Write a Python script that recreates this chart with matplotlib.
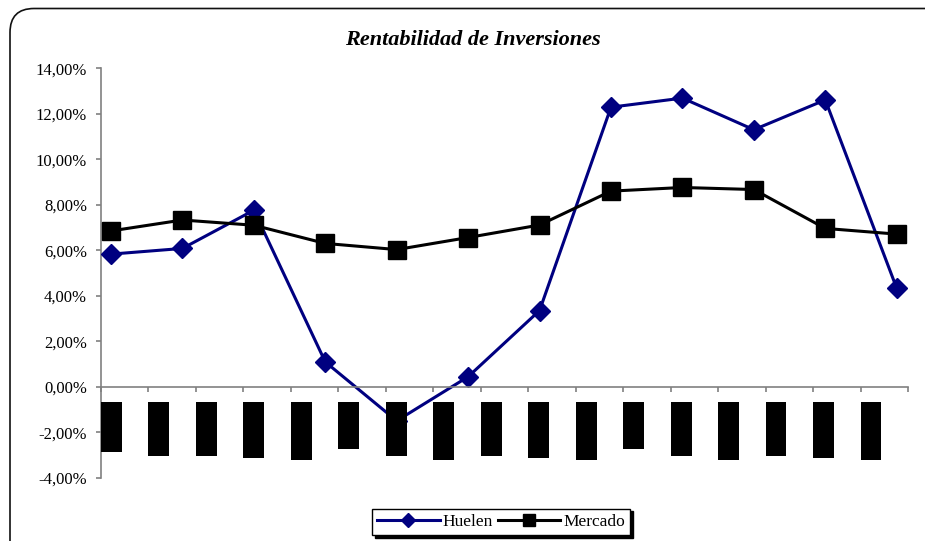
import numpy as np
import matplotlib
matplotlib.use("Agg")
import matplotlib.pyplot as plt
from matplotlib.patches import FancyBboxPatch
from matplotlib.ticker import FuncFormatter

# ---- data ----
series_names = ["Huelen", "Mercado"]
huelen = [5.83, 6.08, 7.76, 1.09, -1.50, 0.44, 3.35, 12.29, 12.69, 11.30, 12.61, 4.33]
mercado = [6.85, 7.33, 7.10, 6.30, 6.03, 6.56, 7.11, 8.60, 8.76, 8.67, 6.96, 6.71]
y_ticks = [-4, -2, 0, 2, 4, 6, 8, 10, 12, 14]
title = "Rentabilidad de Inversiones"

# category axis (17 categories whose labels render as black blocks)
n_categories = 17
label_block_top = -0.65
label_block_bottom = [-2.88, -3.05, -3.05, -3.14, -3.23, -2.74, -3.05, -3.23, -3.05,
                      -3.14, -3.23, -2.74, -3.05, -3.23, -3.05, -3.14, -3.23]

plt.rcParams['font.family'] = ['Liberation Serif', 'DejaVu Serif']

fig = plt.figure(figsize=(9.25, 5.41), dpi=100)
fig.patch.set_facecolor('white')

# rounded chart frame
frame = FancyBboxPatch((0.10, -0.5), 9.6, 5.825,
                       boxstyle="round,pad=0,rounding_size=0.24",
                       transform=fig.dpi_scale_trans, facecolor='none',
                       edgecolor='#111111', linewidth=1.2)
fig.patches.append(frame)

left, bottom = 101 / 925, 1 - 477.7 / 541
width, height = 807 / 925, 409.4 / 541
ax = fig.add_axes([left, bottom, width, height])
n = len(huelen)
x = np.arange(n)
a = -0.140
b = a + (n - 1) / 0.9736
ax.set_xlim(a, b)
ax.set_ylim(-4, 14)

ax.plot(x, huelen, color='#000080', lw=2.2, marker='D', markersize=10,
        markeredgecolor='#000080', markerfacecolor='#000080', label=series_names[0], zorder=3)
ax.plot(x, mercado, color='black', lw=2.2, marker='s', markersize=12.5,
        markeredgecolor='black', markerfacecolor='black', label=series_names[1], zorder=3)

for s in ['top', 'right', 'bottom']:
    ax.spines[s].set_visible(False)
ax.spines['left'].set_color('#808080')
ax.spines['left'].set_linewidth(1.2)
ax.set_xticks([])
ax.set_yticks(y_ticks)
ax.yaxis.set_major_formatter(FuncFormatter(lambda v, p: f"{v:.2f}%".replace('.', ',')))
ax.tick_params(axis='y', direction='out', length=3.6, width=1.2, color='#808080',
               labelsize=12, pad=6.5)
ax.patch.set_alpha(0)

# category axis with ticks at y=0, and the label blocks on top
ax2 = ax.twiny()
ax2.set_xlim(0, n_categories)
cats = np.arange(n_categories)
heights = [label_block_top - bt for bt in label_block_bottom]
ax2.bar(cats, heights, bottom=label_block_bottom, width=0.44, align='edge',
        color='black', zorder=5, clip_on=False)
ax2.spines['bottom'].set_position(('data', 0))
ax2.spines['bottom'].set_color('#808080')
ax2.spines['bottom'].set_linewidth(1.2)
for s in ['top', 'right', 'left']:
    ax2.spines[s].set_visible(False)
ax2.xaxis.set_ticks_position('bottom')
ax2.set_xticks(np.arange(n_categories + 1))
ax2.set_xticklabels([])
ax2.tick_params(axis='x', direction='out', length=3.6, width=1.2, color='#808080')
ax2.patch.set_alpha(0)

fig.text(473 / 925, 1 - 40 / 541, title, ha='center', va='center',
         fontsize=16, fontweight='bold', fontstyle='italic')

h, l = ax.get_legend_handles_labels()
leg = fig.legend(h, l, loc='center', bbox_to_anchor=(501 / 925, 1 - 522 / 541), ncol=2,
                 frameon=True, fancybox=False, shadow={'color': 'black', 'alpha': 1},
                 edgecolor='black', fontsize=12.5, handlelength=3.6, handletextpad=0.15,
                 columnspacing=0.3, borderpad=0.3, markerscale=0.7, borderaxespad=0)
leg.get_frame().set_linewidth(1.0)

fig.savefig("out.png", dpi=100)
